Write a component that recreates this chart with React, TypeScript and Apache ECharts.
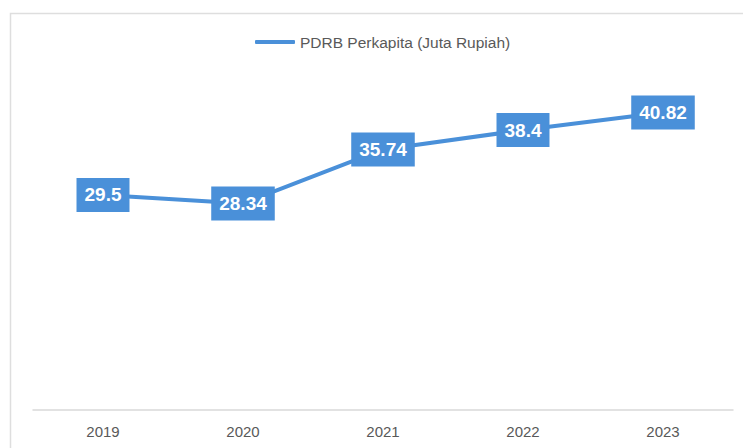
import React, { useEffect, useRef } from "react";
import * as echarts from "echarts";

const years = ["2019", "2020", "2021", "2022", "2023"];
const pdrbValues = [29.5, 28.34, 35.74, 38.4, 40.82];
const seriesName = "PDRB Perkapita (Juta Rupiah)";

export default function App() {
  const ref = useRef<HTMLDivElement>(null);
  useEffect(() => {
    if (!ref.current) return;
    const chart = echarts.init(ref.current, null, { renderer: "svg" });
    const blue = "#4A90D9";
    chart.setOption({
      animation: false,
      backgroundColor: "#ffffff",
      graphic: [
        {
          type: "rect",
          shape: { x: 10.5, y: 13.5, width: 800, height: 500 },
          style: { fill: "none", stroke: "#dedede", lineWidth: 1.5 },
          silent: true,
        },
      ],
      legend: {
        top: 29,
        left: 250,
        itemWidth: 40,
        itemHeight: 4,
        itemGap: 10,
        textStyle: { color: "#595959", fontSize: 15.5, fontFamily: "Liberation Sans, Arial, sans-serif" },
        data: [{ name: seriesName, icon: "roundRect" }],
      },
      grid: { left: 33, right: 10, top: 45.5, bottom: 38 },
      xAxis: {
        type: "category",
        data: years,
        boundaryGap: true,
        axisLine: { lineStyle: { color: "#d9d9d9", width: 1.5 } },
        axisTick: { show: false },
        axisLabel: {
          color: "#595959",
          fontSize: 15,
          margin: 14,
          fontFamily: "Liberation Sans, Arial, sans-serif",
        },
      },
      yAxis: {
        type: "value",
        min: 0,
        max: 50,
        show: false,
        splitLine: { show: false },
      },
      series: [
        {
          name: seriesName,
          type: "line",
          data: pdrbValues,
          symbol: "circle",
          symbolSize: 1,
          showSymbol: true,
          lineStyle: { color: blue, width: 4, cap: "round" },
          itemStyle: { color: blue },
          label: {
            show: true,
            position: "inside",
            color: "#ffffff",
            fontWeight: "bold",
            fontSize: 19,
            fontFamily: "Liberation Sans, Arial, sans-serif",
            backgroundColor: blue,
            padding: [8, 8, 7, 8],
          },
        },
      ],
    });
    return () => chart.dispose();
  }, []);
  return (
    <div
      ref={ref}
      style={{ position: "fixed", left: 0, top: 0, width: 743, height: 448 }}
    />
  );
}
